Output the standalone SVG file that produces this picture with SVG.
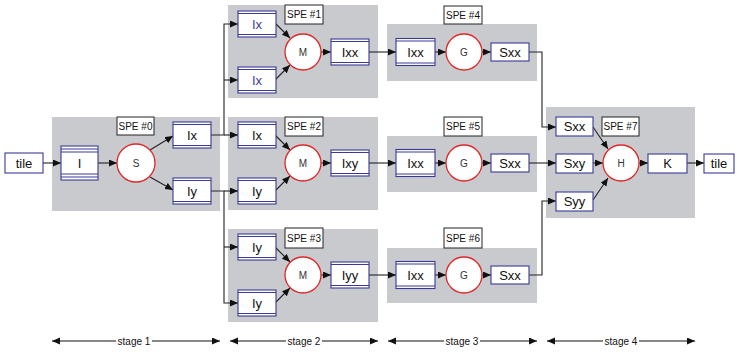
<svg xmlns="http://www.w3.org/2000/svg" width="737" height="352" viewBox="0 0 737 352">
<defs>
<marker id="ah" markerUnits="userSpaceOnUse" markerWidth="9" markerHeight="8" refX="8" refY="3.5" orient="auto-start-reverse"><path d="M0,0 L8,3.5 L0,7 z" fill="#111"/></marker>
<style>
.pan{fill:#c8cacd}
.box{fill:#fff;stroke:#3a3a96;stroke-width:1.1}
.dl{stroke:#3a3a96;stroke-width:1.1}
.cir{fill:#fff;stroke:#e02828;stroke-width:1.3}
.lbl{fill:#fff;stroke:#222;stroke-width:1}
.t{font-family:"Liberation Sans",Arial,sans-serif;font-size:13px;fill:#111;text-anchor:middle}
.tb{fill:#3c3ca0}
.ct{font-family:"Liberation Sans",Arial,sans-serif;font-size:10px;fill:#333;text-anchor:middle}
.st{font-family:"Liberation Sans",Arial,sans-serif;font-size:10px;fill:#111;text-anchor:middle}
.c{fill:none;stroke:#222;stroke-width:1.1;marker-end:url(#ah)}
.s{fill:none;stroke:#111;stroke-width:1.1}
</style>
</defs>
<g id="panels">
<rect class="pan" x="52" y="117" width="168" height="94"/>
<rect class="pan" x="228" y="5" width="150" height="93"/>
<rect class="pan" x="228" y="117" width="150" height="93"/>
<rect class="pan" x="228" y="229" width="150" height="93"/>
<rect class="pan" x="387" y="24" width="150" height="57"/>
<rect class="pan" x="387" y="136" width="150" height="56"/>
<rect class="pan" x="387" y="248" width="150" height="55"/>
<rect class="pan" x="546" y="107" width="149" height="111"/>
</g>
<g id="connectors">
<path class="c" d="M43,163 H61"/>
<path class="c" d="M98,163 H117"/>
<path class="c" d="M150,150 L173,136"/>
<path class="c" d="M150,177 L173,190"/>
<path class="c" d="M211,135 H224 V24 H238"/>
<path class="c" d="M224,80 H238"/>
<path class="c" d="M224,135 H238"/>
<path class="c" d="M211,191 H224 V303 H238"/>
<path class="c" d="M224,191 H238"/>
<path class="c" d="M224,247 H238"/>
<path class="c" d="M275,23 L290,38"/>
<path class="c" d="M275,80 L290,65"/>
<path class="c" d="M321,52 H331"/>
<path class="c" d="M275,135 L290,150"/>
<path class="c" d="M275,191 L290,176"/>
<path class="c" d="M321,163 H331"/>
<path class="c" d="M275,247 L290,262"/>
<path class="c" d="M275,303 L290,288"/>
<path class="c" d="M321,275 H331"/>
<path class="c" d="M369,52 H396"/>
<path class="c" d="M369,163 H396"/>
<path class="c" d="M369,275 H396"/>
<path class="c" d="M435,52 H446"/>
<path class="c" d="M482,52 H491"/>
<path class="c" d="M435,163 H446"/>
<path class="c" d="M482,163 H491"/>
<path class="c" d="M435,275 H446"/>
<path class="c" d="M482,275 H491"/>
<path class="c" d="M529,52 H542 V127 H556"/>
<path class="c" d="M529,163 H556"/>
<path class="c" d="M529,275 H542 V201 H556"/>
<path class="c" d="M593,127 L608,149"/>
<path class="c" d="M593,163 H603"/>
<path class="c" d="M593,200 L608,178"/>
<path class="c" d="M639,163 H648"/>
<path class="c" d="M687,163 H704"/>
</g>
<g id="tile-in"><rect class="box" x="5" y="153" width="38" height="20"/><text class="t" x="24" y="163" dy="0.35em">tile</text></g>
<g id="spe0">
<rect class="lbl" x="117" y="117" width="37" height="18"/><text class="st" x="135.5" y="126" dy="0.35em">SPE #0</text>
<g id="I"><rect class="box" x="61" y="146" width="37" height="34"/><path class="dl" d="M61,149 H98 M61,152 H98 M61,174 H98 M61,177 H98"/><text class="t" x="79.5" y="163" dy="0.35em">I</text></g>
<g id="S"><circle class="cir" cx="136" cy="163" r="19"/><text class="ct" x="136" y="163" dy="0.35em">S</text></g>
<g id="Ix0"><rect class="box" x="173" y="122" width="38" height="26"/><path class="dl" d="M173,124.5 H211 M173,145.5 H211"/><text class="t" x="192" y="135" dy="0.35em">Ix</text></g>
<g id="Iy0"><rect class="box" x="173" y="178" width="38" height="26"/><path class="dl" d="M173,180.5 H211 M173,201.5 H211"/><text class="t" x="192" y="191" dy="0.35em">Iy</text></g>
</g>
<g id="spe1">
<rect class="lbl" x="285" y="5" width="38" height="19"/><text class="st" x="304" y="14.5" dy="0.35em">SPE #1</text>
<g id="Ix1a"><rect class="box" x="238" y="11" width="38" height="26"/><path class="dl" d="M238,13.5 H276 M238,34.5 H276"/><text class="t tb" x="257" y="24" dy="0.35em">Ix</text></g>
<g id="Ix1b"><rect class="box" x="238" y="67" width="38" height="26"/><path class="dl" d="M238,69.5 H276 M238,90.5 H276"/><text class="t tb" x="257" y="80" dy="0.35em">Ix</text></g>
<g id="M1"><circle class="cir" cx="303" cy="52" r="18"/><text class="ct" x="303" y="52" dy="0.35em">M</text></g>
<g id="Ixx1"><rect class="box" x="331" y="39" width="38" height="26"/><path class="dl" d="M331,41.5 H369 M331,62.5 H369"/><text class="t" x="350" y="52" dy="0.35em">Ixx</text></g>
</g>
<g id="spe2">
<rect class="lbl" x="285" y="117" width="38" height="19"/><text class="st" x="304" y="126.5" dy="0.35em">SPE #2</text>
<g id="Ix2"><rect class="box" x="238" y="122" width="38" height="26"/><path class="dl" d="M238,124.5 H276 M238,145.5 H276"/><text class="t" x="257" y="135" dy="0.35em">Ix</text></g>
<g id="Iy2"><rect class="box" x="238" y="178" width="38" height="26"/><path class="dl" d="M238,180.5 H276 M238,201.5 H276"/><text class="t" x="257" y="191" dy="0.35em">Iy</text></g>
<g id="M2"><circle class="cir" cx="303" cy="163" r="18"/><text class="ct" x="303" y="163" dy="0.35em">M</text></g>
<g id="Ixy2"><rect class="box" x="331" y="150" width="38" height="26"/><path class="dl" d="M331,152.5 H369 M331,173.5 H369"/><text class="t" x="350" y="163" dy="0.35em">Ixy</text></g>
</g>
<g id="spe3">
<rect class="lbl" x="285" y="228" width="38" height="20"/><text class="st" x="304" y="238" dy="0.35em">SPE #3</text>
<g id="Iy3a"><rect class="box" x="238" y="234" width="38" height="26"/><path class="dl" d="M238,236.5 H276 M238,257.5 H276"/><text class="t" x="257" y="247" dy="0.35em">Iy</text></g>
<g id="Iy3b"><rect class="box" x="238" y="290" width="38" height="26"/><path class="dl" d="M238,292.5 H276 M238,313.5 H276"/><text class="t" x="257" y="303" dy="0.35em">Iy</text></g>
<g id="M3"><circle class="cir" cx="303" cy="275" r="18"/><text class="ct" x="303" y="275" dy="0.35em">M</text></g>
<g id="Iyy3"><rect class="box" x="331" y="262" width="38" height="26"/><path class="dl" d="M331,264.5 H369 M331,285.5 H369"/><text class="t" x="350" y="275" dy="0.35em">Iyy</text></g>
</g>
<g id="spe4">
<rect class="lbl" x="444" y="6" width="38" height="18"/><text class="st" x="463" y="15" dy="0.35em">SPE #4</text>
<g id="Ixx4"><rect class="box" x="396" y="38.5" width="39" height="27"/><path class="dl" d="M396,41 H435 M396,63 H435"/><text class="t" x="415.5" y="52" dy="0.35em">Ixx</text></g>
<g id="G4"><circle class="cir" cx="464" cy="52" r="18"/><text class="ct" x="464" y="52" dy="0.35em">G</text></g>
<g id="Sxx4"><rect class="box" x="491" y="43" width="38" height="18"/><text class="t" x="510" y="52" dy="0.35em">Sxx</text></g>
</g>
<g id="spe5">
<rect class="lbl" x="444" y="117" width="38" height="19"/><text class="st" x="463" y="126.5" dy="0.35em">SPE #5</text>
<g id="Ixx5"><rect class="box" x="396" y="149.5" width="39" height="27"/><path class="dl" d="M396,152 H435 M396,174 H435"/><text class="t" x="415.5" y="163" dy="0.35em">Ixx</text></g>
<g id="G5"><circle class="cir" cx="464" cy="163" r="18"/><text class="ct" x="464" y="163" dy="0.35em">G</text></g>
<g id="Sxx5"><rect class="box" x="491" y="154" width="38" height="18"/><text class="t" x="510" y="163" dy="0.35em">Sxx</text></g>
</g>
<g id="spe6">
<rect class="lbl" x="444" y="228" width="38" height="20"/><text class="st" x="463" y="238" dy="0.35em">SPE #6</text>
<g id="Ixx6"><rect class="box" x="396" y="261.5" width="39" height="27"/><path class="dl" d="M396,264 H435 M396,286 H435"/><text class="t" x="415.5" y="275" dy="0.35em">Ixx</text></g>
<g id="G6"><circle class="cir" cx="464" cy="275" r="18"/><text class="ct" x="464" y="275" dy="0.35em">G</text></g>
<g id="Sxx6"><rect class="box" x="491" y="266" width="38" height="18"/><text class="t" x="510" y="275" dy="0.35em">Sxx</text></g>
</g>
<g id="spe7">
<rect class="lbl" x="602" y="117" width="37" height="19"/><text class="st" x="620.5" y="126.5" dy="0.35em">SPE #7</text>
<g id="Sxx7"><rect class="box" x="556" y="117" width="37" height="19"/><text class="t" x="574.5" y="126.5" dy="0.35em">Sxx</text></g>
<g id="Sxy7"><rect class="box" x="556" y="154" width="37" height="19"/><text class="t" x="574.5" y="163.5" dy="0.35em">Sxy</text></g>
<g id="Syy7"><rect class="box" x="556" y="192" width="37" height="19"/><text class="t" x="574.5" y="201.5" dy="0.35em">Syy</text></g>
<g id="H"><circle class="cir" cx="621" cy="163" r="18"/><text class="ct" x="621" y="163" dy="0.35em">H</text></g>
<g id="K"><rect class="box" x="648" y="154" width="39" height="19"/><text class="t" x="667.5" y="163.5" dy="0.35em">K</text></g>
</g>
<g id="tile-out"><rect class="box" x="704" y="154" width="30" height="19"/><text class="t" x="719" y="163.5" dy="0.35em">tile</text></g>
<g id="stages">
<path class="s" d="M116,341 H52" marker-end="url(#ah)"/><path class="s" d="M152,341 H220" marker-end="url(#ah)"/><text class="st" x="134" y="341" dy="0.35em">stage 1</text>
<path class="s" d="M286,341 H230" marker-end="url(#ah)"/><path class="s" d="M322,341 H378" marker-end="url(#ah)"/><text class="st" x="304" y="341" dy="0.35em">stage 2</text>
<path class="s" d="M444,341 H388" marker-end="url(#ah)"/><path class="s" d="M480,341 H537" marker-end="url(#ah)"/><text class="st" x="462" y="341" dy="0.35em">stage 3</text>
<path class="s" d="M603,341 H547" marker-end="url(#ah)"/><path class="s" d="M639,341 H695" marker-end="url(#ah)"/><text class="st" x="621" y="341" dy="0.35em">stage 4</text>
</g>
</svg>
